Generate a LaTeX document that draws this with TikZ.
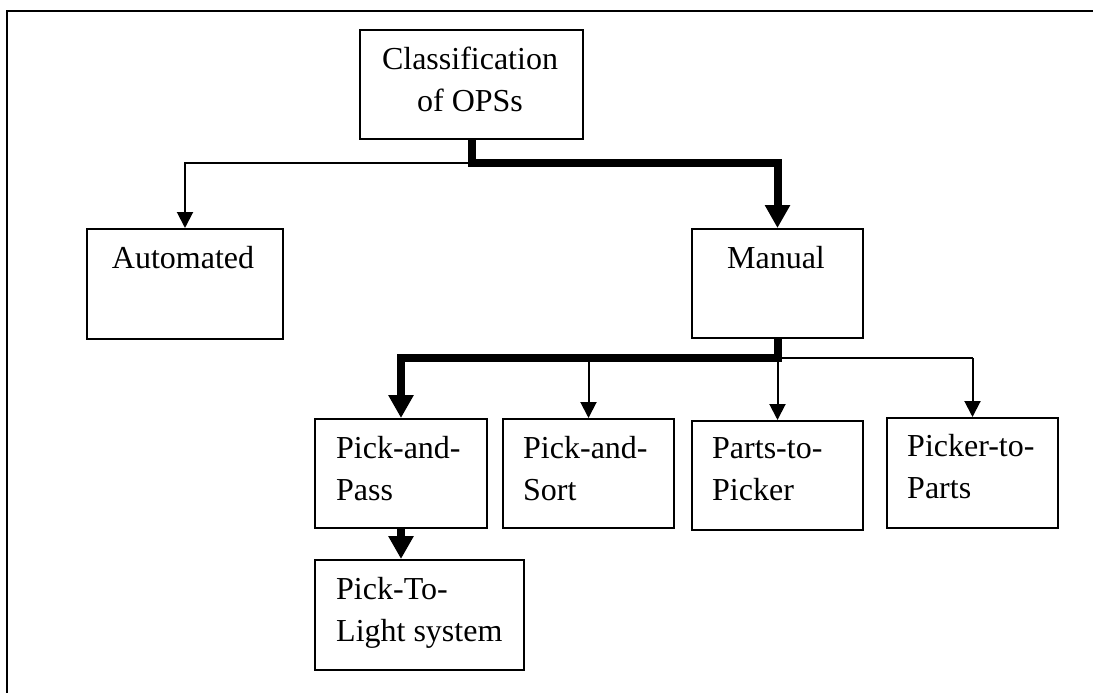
\documentclass[tikz,border=0pt]{standalone}
\usepackage{fontspec}
\setmainfont{Liberation Serif}
\usetikzlibrary{arrows.meta}
\newcommand\hgtstrut{\rule{0pt}{24pt}}
\begin{document}
\begin{tikzpicture}[x=1pt,y=1pt,
  obox/.style={draw=black,line width=2pt,inner sep=0pt,anchor=north west},
  txt/.style={inner sep=0pt,font=\fontsize{32}{42}\selectfont,align=left},
  ctxt/.style={inner sep=0pt,font=\fontsize{32}{42}\selectfont,align=center,anchor=north},
  thinarrow/.style={line width=2pt,-{Triangle[width=16pt,length=16pt]}},
  heavyarrow/.style={line width=8pt,-{Triangle[width=24pt,length=23pt]}},
  thinline/.style={line width=2pt},
  heavyline/.style={line width=8pt}]
\useasboundingbox (0,0) rectangle (1093,-693);

% outer frame (top and left edges only)
\draw[line width=2.5pt] (7,-693) -- (7,-11) -- (1093,-11);

% boxes
\node[obox,minimum width=223pt,minimum height=109pt] (cls) at (359,-29) {};
\node[obox,minimum width=196pt,minimum height=110pt] (aut) at (86,-228) {};
\node[obox,minimum width=171pt,minimum height=109pt] (man) at (691,-228) {};
\node[obox,minimum width=172pt,minimum height=109pt] (pp) at (314,-418) {};
\node[obox,minimum width=171pt,minimum height=109pt] (ps) at (502,-418) {};
\node[obox,minimum width=171pt,minimum height=109pt] (ptp) at (691,-420) {};
\node[obox,minimum width=171pt,minimum height=110pt] (pkp) at (886,-417) {};
\node[obox,minimum width=209pt,minimum height=110pt] (ptl) at (314,-559) {};

% labels
\node[ctxt] (clsT) at (470,-45) {\hgtstrut Classification\\of OPSs};
\node[ctxt] (autT) at (183,-244) {\hgtstrut Automated};
\node[ctxt] (manT) at (776,-244) {\hgtstrut Manual};
\node[txt,anchor=north west] (ppT) at (336,-434) {\hgtstrut Pick-and-\\Pass};
\node[txt,anchor=north west] (psT) at (523,-434) {\hgtstrut Pick-and-\\Sort};
\node[txt,anchor=north west] (ptpT) at (712,-434) {\hgtstrut Parts-to-\\Picker};
\node[txt,anchor=north west] (pkpT) at (907,-432) {\hgtstrut Picker-to-\\Parts};
\node[txt,anchor=north west] (ptlT) at (336,-575) {\hgtstrut Pick-To-\\Light system};

% junctions
\coordinate (j1) at (cls.south |- 0,-163);
\coordinate (j2) at (man.south |- 0,-358);

% connectors from the top box
\draw[thinarrow] (j1) -| (aut.north);
\draw[heavyarrow] (cls.south) -- (j1) -| (man.north);

% connectors from the manual box
\draw[thinline] (j2) -- (pkp.north |- j2);
\draw[thinarrow] (pkp.north |- j2) -- (pkp.north);
\draw[thinarrow] (j2) -- (j2 |- ptp.north);
\draw[thinarrow] (ps.north |- j2) -- (ps.north);
\draw[heavyarrow] (man.south) -- (j2) -| (pp.north);

% pick-and-pass to pick-to-light
\draw[heavyarrow] (pp.south) -- (pp.south |- ptl.north);
\end{tikzpicture}
\end{document}
